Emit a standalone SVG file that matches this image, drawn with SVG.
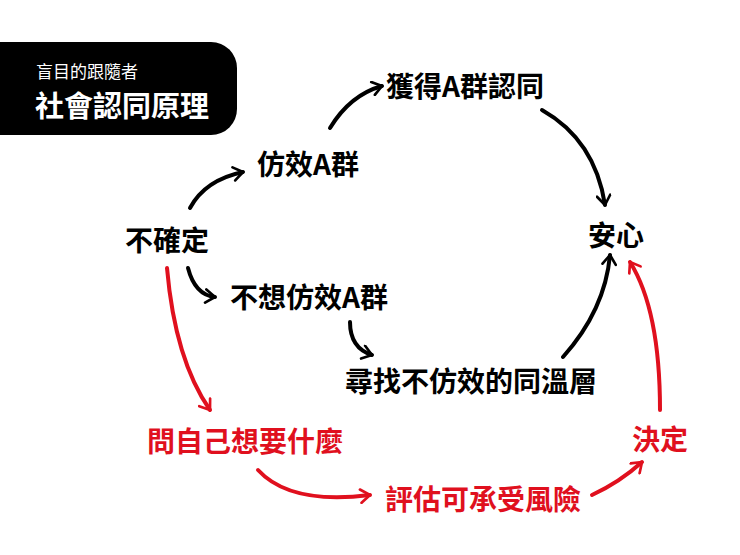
<svg xmlns="http://www.w3.org/2000/svg" width="740" height="555" viewBox="0 0 740 555">
<style>
text{font-family:"Noto Sans CJK TC","Noto Sans",sans-serif;font-weight:700;font-size:28px}
.r{fill:#e0101e}
.c{fill:none;stroke-width:4;stroke-linecap:round}
.k{stroke:#000;marker-end:url(#ak)}
.rd{stroke:#e0101e;marker-end:url(#ar)}
</style>
<defs>
<marker id="ak" viewBox="0 0 12 12" refX="9" refY="6" markerWidth="4" markerHeight="4" orient="auto" markerUnits="strokeWidth"><polyline points="2,1 9,6 2,11" fill="none" stroke="#000" stroke-width="2" stroke-linecap="round" stroke-linejoin="round"/></marker>
<marker id="ar" viewBox="0 0 12 12" refX="9" refY="6" markerWidth="4" markerHeight="4" orient="auto" markerUnits="strokeWidth"><polyline points="2,1 9,6 2,11" fill="none" stroke="#e0101e" stroke-width="2" stroke-linecap="round" stroke-linejoin="round"/></marker>
</defs>
<rect width="740" height="555" fill="#fff"/>
<g id="title">
<rect x="-30" y="42" width="267" height="93" rx="26" fill="#000"/>
<text x="36" y="78" fill="#fff" style="font-size:17px;font-weight:400">盲目的跟隨者</text>
<text x="35" y="117" fill="#fff" style="font-size:29px">社會認同原理</text>
</g>
<g id="connectors">
<path class="c k" d="M190,208 Q205,180 243,172"/>
<path class="c k" d="M330,128 Q350,95 382,86"/>
<path class="c k" d="M542,110 Q595,140 605,205"/>
<path class="c k" d="M188,268 Q195,295 215,297"/>
<path class="c k" d="M350,322 Q350,348 372,355"/>
<path class="c k" d="M563,357 Q605,310 610,255"/>
<path class="c rd" d="M167,268 Q175,360 210,410"/>
<path class="c rd" d="M258,470 Q290,505 370,495"/>
<path class="c rd" d="M592,495 Q620,482 642,462"/>
<path class="c rd" d="M660,410 Q660,310 630,262"/>
</g>
<g id="n1"><text x="386" y="97">獲得A群認同</text></g>
<g id="n2"><text x="257" y="175">仿效A群</text></g>
<g id="n3"><text x="588" y="246">安心</text></g>
<g id="n4"><text x="125" y="251">不確定</text></g>
<g id="n5"><text x="230" y="308">不想仿效A群</text></g>
<g id="n6"><text x="345" y="392">尋找不仿效的同溫層</text></g>
<g id="n7"><text class="r" x="147" y="452">問自己想要什麼</text></g>
<g id="n8"><text class="r" x="632" y="450">決定</text></g>
<g id="n9"><text class="r" x="385" y="510">評估可承受風險</text></g>
</svg>
